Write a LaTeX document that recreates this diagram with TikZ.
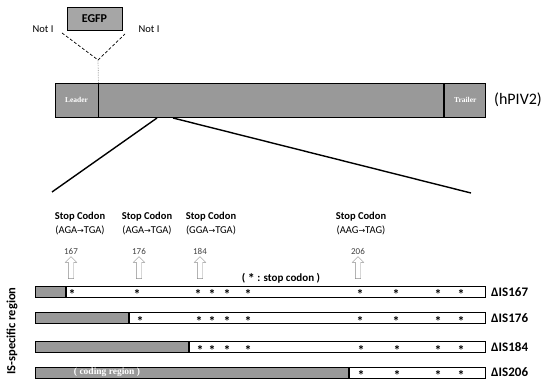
\documentclass[tikz,border=0pt]{standalone}
\usepackage{fontspec}
\setmainfont{Carlito}
\newfontfamily\serfont{Liberation Serif}
\newfontfamily\arrfont{DejaVu Sans}
\usetikzlibrary{arrows.meta,positioning,shapes.arrows}
\newcommand{\ra}{{\arrfont\fontsize{8}{8}\selectfont→}}

\begin{document}
\begin{tikzpicture}[x=1pt, y=-1pt,
  every node/.style={inner sep=0pt},
  seg/.style={draw, line width=0.9pt, minimum height=34pt, fill=black!40},
  graybar/.style={draw, line width=0.9pt, minimum height=11pt, fill=black!40},
  openbar/.style={draw, line width=0.9pt, minimum height=11pt, fill=white},
  endlabel/.style={font=\serfont\bfseries\fontsize{7.5}{8}\selectfont, text=white},
  codon/.style={align=center, font=\fontsize{10.5}{14}\selectfont},
  numlabel/.style={font=\fontsize{9}{10}\selectfont, text=black!75},
  uparrow/.style={single arrow, draw=black!45, fill=white, rotate=90, inner sep=2.5pt,
             single arrow head extend=3pt, minimum height=22pt},
  starmark/.style={font=\bfseries\fontsize{14}{14}\selectfont, yshift=-3pt},
  clone/.style={anchor=west, font=\bfseries\fontsize{13}{14}\selectfont},
  zoomline/.style={line width=1.4pt}
]
\useasboundingbox (0,0) rectangle (552,387);

%% EGFP insertion
\node[draw, line width=0.9pt, fill=black!35, minimum width=55pt, minimum height=23pt,
      font=\bfseries\fontsize{12}{12}\selectfont] (egfp) at (94.5,18.5) {EGFP};
\node[font=\fontsize{10.5}{10}\selectfont] (notL) at (43,29) {Not I};
\node[font=\fontsize{10.5}{10}\selectfont] (notR) at (149,29) {Not I};
\coordinate (cutA) at (62,33);
\coordinate (cutB) at (125,34);
\coordinate (ins) at (98,60);

%% Genome (hPIV2)
\node[seg, minimum width=43pt] (leader) at (76.5,100) {};
\node[seg, minimum width=345pt, right=0pt of leader] (genome) {};
\node[seg, minimum width=41pt, right=0pt of genome] (trailer) {};
\node[endlabel] at (leader) {Leader};
\node[endlabel] at (trailer) {Trailer};
\node[anchor=west, font=\fontsize{16}{16}\selectfont] (hpiv) at (494,100) {(hPIV2)};
\draw[densely dashed, line width=0.7pt] (cutA) -- (ins) -- (cutB);
\draw[densely dotted, black!45, line width=0.7pt] (ins) -- (leader.north east);

%% Zoom lines
\coordinate (zA) at (157,118);
\coordinate (zB) at (173,118);
\coordinate (zL) at (52,192);
\coordinate (zR) at (471,193);
\draw[zoomline] (zA) -- (zL);
\draw[zoomline] (zB) -- (zR);

%% Stop codons
\node[codon] (c167) at (80,224) {\textbf{Stop Codon}\\(AGA\ra TGA)};
\node[codon] (c176) at (147,224) {\textbf{Stop Codon}\\(AGA\ra TGA)};
\node[codon] (c184) at (211,224) {\textbf{Stop Codon}\\(GGA\ra TGA)};
\node[codon] (c206) at (361,224) {\textbf{Stop Codon}\\(AAG\ra TAG)};
\node[numlabel] (p167) at (71,251) {167};
\node[numlabel] (p176) at (139,251) {176};
\node[numlabel] (p184) at (200,251) {184};
\node[numlabel] (p206) at (358,251) {206};
\node[uparrow] (a167) at (71,269) {};
\node[uparrow] (a176) at (139,269) {};
\node[uparrow] (a184) at (200,269) {};
\node[uparrow] (a206) at (358,269) {};
\node[font=\bfseries\fontsize{11}{11}\selectfont] (key) at (281,278)
  {( \raisebox{-0.35ex}{\fontsize{14}{14}\selectfont *} : stop codon )};

%% IS-specific region constructs
\node[graybar, minimum width=30pt, anchor=west] (g167) at (35,291.5) {};
\node[openbar, minimum width=419pt, right=0pt of g167] (w167) {};
\node[graybar, minimum width=93pt, anchor=west] (g176) at (35,318) {};
\node[openbar, minimum width=356pt, right=0pt of g176] (w176) {};
\node[graybar, minimum width=153pt, anchor=west] (g184) at (35,347) {};
\node[openbar, minimum width=296pt, right=0pt of g184] (w184) {};
\node[graybar, minimum width=313pt, anchor=west] (g206) at (35,372.5) {};
\node[openbar, minimum width=136pt, right=0pt of g206] (w206) {};
\node[font=\serfont\bfseries\fontsize{9.5}{9}\selectfont, text=white] (coding) at (107,372.5) {( coding region )};

\foreach \px in {72,137,198,212,227,248,360,396,438,461}
  {\node[starmark] (sa\px) at (\px,291.5) {*};}
\foreach \px in {140,199,212,227,248,360,396,438,461}
  {\node[starmark] (sb\px) at (\px,318) {*};}
\foreach \px in {200,212,227,248,361,397,438,461}
  {\node[starmark] (sc\px) at (\px,347) {*};}
\foreach \px in {361,397,438,461}
  {\node[starmark] (sd\px) at (\px,372.5) {*};}

\node[clone] (d167) at (491,292) {ΔIS167};
\node[clone] (d176) at (491,318) {ΔIS176};
\node[clone] (d184) at (491,347) {ΔIS184};
\node[clone] (d206) at (491,372.5) {ΔIS206};
\node[rotate=90, font=\bfseries\fontsize{12.5}{13}\selectfont] (isreg) at (12,331) {IS-specific region};

\end{tikzpicture}
\end{document}
